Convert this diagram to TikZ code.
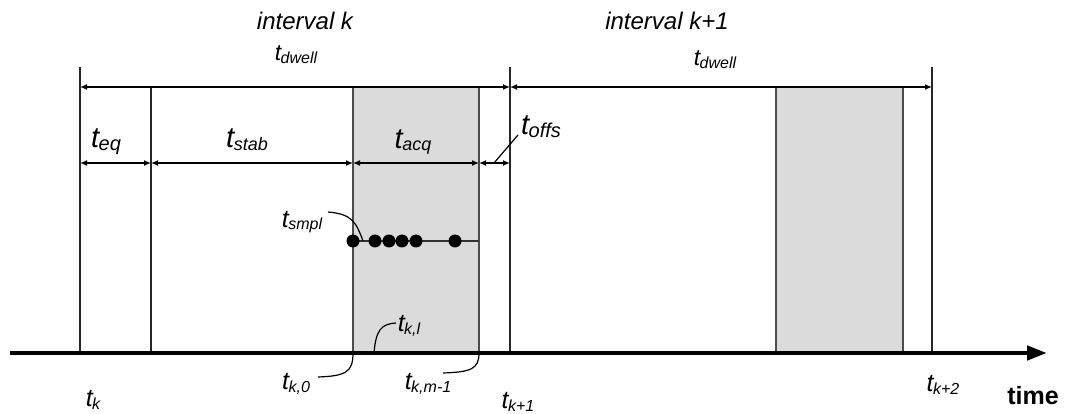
\documentclass[tikz,border=0pt]{standalone}
\usepackage{fontspec}
\setmainfont{Liberation Sans}
\usetikzlibrary{arrows.meta}
\newcommand\tlab[3]{{\fontsize{#1}{#1}\selectfont\itshape t}\kern-0.5pt\raisebox{-0.28em}{\fontsize{#2}{#2}\selectfont\itshape #3}}
\begin{document}
\begin{tikzpicture}[x=1pt,y=-1pt,
  vline/.style={line width=1.8pt,draw=black!85},
  dim/.style={line width=1.5pt,{Latex[length=7pt,width=6pt]}-{Latex[length=7pt,width=6pt]}},
  acqbox/.style={fill=black!14,draw=black!70,line width=1.8pt},
  lead/.style={line width=1.2pt},
  dot/.style={circle,fill=black,inner sep=0pt,minimum size=13pt},
  lbl/.style={inner sep=0pt,anchor=center}]
\useasboundingbox (0,0) rectangle (1066,414);
% gray acquisition boxes
\draw[acqbox] (353,87) rectangle (479,353);
\draw[acqbox] (776,87) rectangle (903,353);
% vertical lines
\coordinate (k0t) at (80,67);   \coordinate (k0b) at (80,353);
\coordinate (s0t) at (151,87);  \coordinate (s0b) at (151,353);
\coordinate (k1t) at (510,67);  \coordinate (k1b) at (510,353);
\coordinate (k2t) at (932,67);  \coordinate (k2b) at (932,353);
\draw[vline] (k0t) -- (k0b);
\draw[vline] (s0t) -- (s0b);
\draw[vline] (k1t) -- (k1b);
\draw[vline] (k2t) -- (k2b);
% dwell dimension lines
\coordinate (d0) at (80,87); \coordinate (d1) at (510,87); \coordinate (d2) at (932,87);
\draw[dim] (d0) -- (d1);
\draw[dim] (d1) -- (d2);
% second row
\coordinate (r0) at (80,163); \coordinate (r1) at (151,163); \coordinate (r2) at (353,163);
\coordinate (r3) at (479,163); \coordinate (r4) at (510,163);
\draw[dim] (r0) -- (r1);
\draw[dim] (r1) -- (r2);
\draw[dim] (r2) -- (r3);
\draw[dim] (r3) -- (r4);
% sample line and dots
\coordinate (sl0) at (353,241); \coordinate (sl1) at (479,241);
\draw[line width=1.3pt,draw=black!80] (sl0) -- (sl1);
\foreach \x/\n in {353/a,375/b,389/c,402/d,416/e,455/f}
  \node[dot] (dot\n) at (\x,241) {};
% time axis
\coordinate (ax0) at (10,353); \coordinate (ax1) at (1047,353);
\draw[line width=4.5pt,-{Triangle[length=20pt,width=14pt]}] (ax0) -- (ax1);
% labels
\node[lbl] (intk) at (305,21) {\fontsize{24}{24}\selectfont\itshape interval k};
\node[lbl] (intk1) at (667,21) {\fontsize{24}{24}\selectfont\itshape interval k+1};
\node[lbl] (dw1) at (296,55) {\tlab{23}{16}{dwell}};
\node[lbl] (dw2) at (715,60) {\tlab{23}{16}{dwell}};
\node[lbl] (teq) at (106,142) {\tlab{29}{20}{eq}};
\node[lbl] (tstab) at (247,140) {\tlab{29}{18}{stab}};
\node[lbl] (tacq) at (413,142) {\tlab{29}{18}{acq}};
\node[lbl] (toffs) at (541,127) {\tlab{29}{20}{offs}};
\node[lbl] (tsmpl) at (302,222) {\tlab{25}{16}{smpl}};
\node[lbl] (tkl) at (409,326) {\tlab{25}{16}{k,l}};
\node[lbl] (tk0) at (296,384) {\tlab{25}{16}{k,0}};
\node[lbl] (tkm) at (428,384) {\tlab{25}{16}{k,m-1}};
\node[lbl] (tk) at (93,400) {\tlab{25}{16}{k}};
\node[lbl] (tk1) at (518,402) {\tlab{25}{16}{k+1}};
\node[lbl] (tk2) at (943,385) {\tlab{25}{16}{k+2}};
\node[lbl] (time) at (1033,396) {\fontsize{25}{25}\selectfont\bfseries time};
% leader curves
\coordinate (ls0) at (328,212); \coordinate (ls1) at (363,241);
\draw[lead] (ls0) .. controls (352,214) and (356,222) .. (ls1);
\coordinate (ll0) at (374,353); \coordinate (ll1) at (396,323);
\draw[lead] (ll0) .. controls (376,330) and (381,324) .. (ll1);
\coordinate (l00) at (353,353); \coordinate (l01) at (318,377);
\draw[lead] (l00) .. controls (353,372) and (346,376) .. (l01);
\coordinate (lm0) at (479,353); \coordinate (lm1) at (443,373);
\draw[lead] (lm0) .. controls (479,369) and (471,372) .. (lm1);
\coordinate (lo0) at (494,163); \coordinate (lo1) at (518,135);
\draw[lead] (lo0) -- (lo1);
\end{tikzpicture}
\end{document}
